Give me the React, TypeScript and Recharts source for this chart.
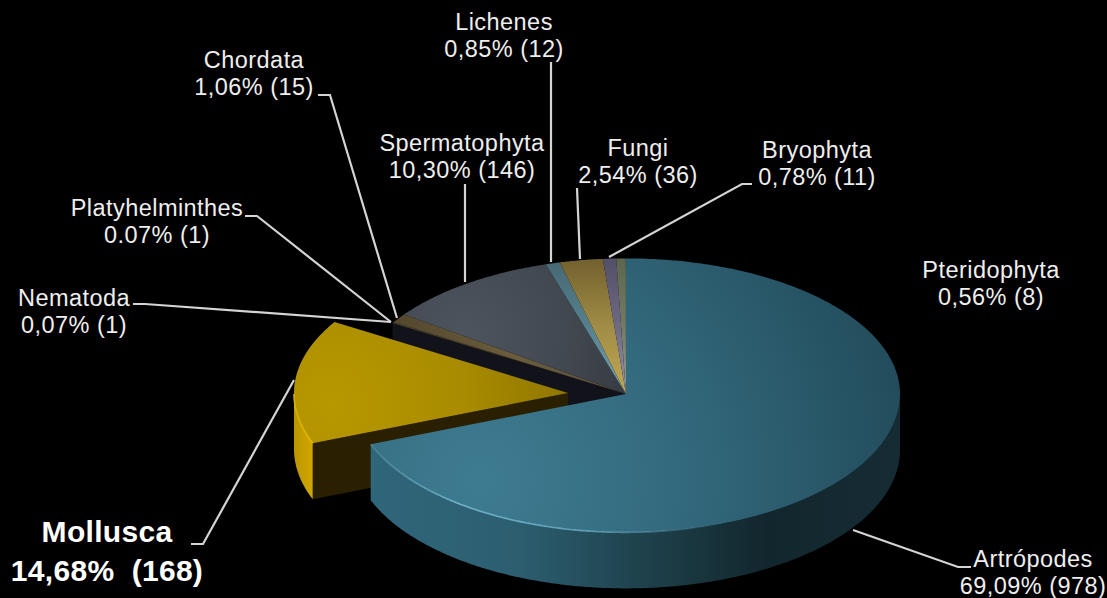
import React from "react";
import { PieChart, Pie } from "recharts";

// Slices, clockwise, starting at the Mollusca cut
const names = ["Mollusca", "Nematoda", "Platyhelminthes", "Chordata", "Spermatophyta", "Lichenes", "Fungi", "Bryophyta", "Pteridophyta", "Artrópodes"];
const percents = [14.68, 0.07, 0.07, 1.06, 10.3, 0.85, 2.54, 0.78, 0.56, 69.09];
const percentLabels = ["14,68%", "0,07%", "0.07%", "1,06%", "10,30%", "0,85%", "2,54%", "0,78%", "0,56%", "69,09%"];
const counts = [168, 1, 1, 15, 146, 12, 36, 11, 8, 978];

const chartData = names.map((name, i) => ({ name, value: percents[i] }));

const CX = 626;
const CY = 394;
const R = 274;
const DEPTH = 56;
const BACK_TILT = 0.495;
const FRONT_TILT = 0.505;
const EXPLODE: Record<string, [number, number]> = { Mollusca: [-58, -1] };
const WALL_FILL: Record<string, string> = { Mollusca: "url(#wallGold)", Artrópodes: "url(#wallBlue)" };
const CUT_FILL: Record<string, string> = { Mollusca: "#2a2000", Nematoda: "#12121a" };
const RIM_STROKE: Record<string, string> = { Mollusca: "url(#rimGold)", Artrópodes: "url(#rimBlue)" };

// Label anchor and leader line for every slice
const labelLayout: Record<string, { x: number; y: number; line: number[][] }> = {
  Mollusca: { x: 107, y: 542, line: [[191, 544], [203, 544], [294, 380]] },
  Nematoda: { x: 74, y: 306, line: [[133, 304], [145, 304], [391, 322]] },
  Platyhelminthes: { x: 157, y: 216, line: [[245, 216], [257, 216], [391, 322]] },
  Chordata: { x: 254, y: 68, line: [[318, 95], [330, 95], [397, 318]] },
  Spermatophyta: { x: 462, y: 151, line: [[465, 184], [465, 282]] },
  Lichenes: { x: 504, y: 30, line: [[551, 62], [551, 262]] },
  Fungi: { x: 638, y: 156, line: [[577, 188], [580, 259]] },
  Bryophyta: { x: 817, y: 158, line: [[752, 184], [742, 184], [609, 257]] },
  Pteridophyta: { x: 991, y: 278, line: [] },
  Artrópodes: { x: 1033, y: 567, line: [[853, 530], [958, 567], [971, 567]] },
};

const pt = (deg: number, ox: number, oy: number, drop = 0): [number, number] => {
  const rad = (deg * Math.PI) / 180;
  const s = Math.sin(rad);
  return [CX + ox + R * Math.cos(rad), CY + oy + drop - R * s * (s > 0 ? BACK_TILT : FRONT_TILT)];
};

const toPath = (pts: [number, number][], close = true) =>
  "M" + pts.map((p) => `${p[0].toFixed(1)},${p[1].toFixed(1)}`).join("L") + (close ? "Z" : "");

const arcAngles = (from: number, to: number) => {
  const out: number[] = [];
  const steps = Math.max(2, Math.ceil(Math.abs(to - from) * 2));
  for (let i = 0; i <= steps; i++) out.push(from + ((to - from) * i) / steps);
  return out;
};

function Slice(props: any) {
  const { name, startAngle, endAngle } = props;
  const [ox, oy] = EXPLODE[name] || [0, 0];
  const apex: [number, number] = [CX + ox, CY + oy];
  const apexLow: [number, number] = [CX + ox, CY + oy + DEPTH];
  const arc = arcAngles(startAngle, endAngle);
  const front = arc.filter((a) => Math.sin((a * Math.PI) / 180) < 0);
  const cut = CUT_FILL[name];
  return (
    <g>
      {cut && Math.cos((startAngle * Math.PI) / 180) < 0 && (
        <path d={toPath([apex, pt(startAngle, ox, oy), pt(startAngle, ox, oy, DEPTH), apexLow])} fill={cut} />
      )}
      {WALL_FILL[name] && front.length > 1 && (
        <path
          d={toPath([...front.map((a) => pt(a, ox, oy)), ...[...front].reverse().map((a) => pt(a, ox, oy, DEPTH))])}
          fill={WALL_FILL[name]}
        />
      )}
      <path d={toPath([apex, ...arc.map((a) => pt(a, ox, oy))])} fill={`url(#top${names.indexOf(name)})`} />
      {RIM_STROKE[name] && front.length > 1 && (
        <path d={toPath(front.map((a) => pt(a, ox, oy)), false)} fill="none" stroke={RIM_STROKE[name]} strokeWidth={1.6} />
      )}
    </g>
  );
}

const backShape = (p: any) => (p.name === "Mollusca" || p.name === "Artrópodes" ? <g /> : <Slice {...p} />);
const goldShape = (p: any) => (p.name === "Mollusca" ? <Slice {...p} /> : <g />);
const blueShape = (p: any) => (p.name === "Artrópodes" ? <Slice {...p} /> : <g />);

function renderLabel(p: any) {
  const name = p.name;
  const i = names.indexOf(name);
  const pos = labelLayout[name];
  const big = name === "Mollusca";
  return (
    <text
      key={name}
      x={pos.x}
      textAnchor="middle"
      fontFamily="'Liberation Sans', Arial, sans-serif"
      fontSize={big ? 30 : 23.5}
      letterSpacing={big ? 0.3 : 0.45}
      fontWeight={big ? 700 : 400}
      fill={big ? "#ffffff" : "#eeeeee"}
    >
      <tspan x={pos.x} y={pos.y}>{name}</tspan>
      <tspan x={pos.x} y={pos.y + (big ? 39 : 27)} xmlSpace="preserve">
        {`${percentLabels[i]}${big ? "  " : " "}(${counts[i]})`}
      </tspan>
    </text>
  );
}

function renderLine(p: any) {
  const line = labelLayout[p.name].line;
  if (!line.length) return <g key={p.name} />;
  return (
    <polyline
      key={p.name}
      points={line.map((q) => q.join(",")).join(" ")}
      fill="none"
      stroke="#d4d4d4"
      strokeWidth={2.2}
    />
  );
}

const pieProps = {
  data: chartData,
  dataKey: "value",
  nameKey: "name",
  cx: CX,
  cy: CY,
  innerRadius: 0,
  outerRadius: R,
  startAngle: -158.7,
  endAngle: -518.7,
  paddingAngle: 0,
  stroke: "none",
  isAnimationActive: false,
};

const vertical = (id: string, top: string, mid: string, bottom: string) => (
  <linearGradient id={id} gradientUnits="userSpaceOnUse" x1="0" y1="258" x2="0" y2="394">
    <stop offset="0" stopColor={top} />
    <stop offset="0.5" stopColor={mid} />
    <stop offset="1" stopColor={bottom} />
  </linearGradient>
);

export default function App() {
  return (
    <div style={{ position: "fixed", left: 0, top: 0, width: 1107, height: 598, background: "#000" }}>
      <PieChart width={1107} height={598} margin={{ top: 0, right: 0, bottom: 0, left: 0 }}>
        <defs>
          <radialGradient id="top0" gradientUnits="userSpaceOnUse" cx="330" cy="405" r="270">
            <stop offset="0" stopColor="#b89800" />
            <stop offset="0.5" stopColor="#a88b00" />
            <stop offset="1" stopColor="#887000" />
          </radialGradient>
          {vertical("top1", "#54482f", "#5a4e34", "#4a4230")}
          {vertical("top2", "#54482f", "#5a4e34", "#4a4230")}
          <linearGradient id="top3" gradientUnits="userSpaceOnUse" x1="400" y1="320" x2="626" y2="394">
            <stop offset="0" stopColor="#54482f" />
            <stop offset="0.5" stopColor="#6a5c3c" />
            <stop offset="1" stopColor="#57503e" />
          </linearGradient>
          <radialGradient id="top4" gradientUnits="userSpaceOnUse" cx="465" cy="335" r="175">
            <stop offset="0" stopColor="#4c545e" />
            <stop offset="0.6" stopColor="#424850" />
            <stop offset="1" stopColor="#363a42" />
          </radialGradient>
          {vertical("top5", "#466873", "#56808e", "#74a3b2")}
          {vertical("top6", "#72602e", "#a08c46", "#c0a852")}
          {vertical("top7", "#544f68", "#6e6a84", "#9492aa")}
          {vertical("top8", "#5c664e", "#737a64", "#989c86")}
          <radialGradient id="top9" gradientUnits="userSpaceOnUse" cx="480" cy="480" r="450">
            <stop offset="0" stopColor="#3e7c92" />
            <stop offset="0.45" stopColor="#33697d" />
            <stop offset="1" stopColor="#214a59" />
          </radialGradient>
          <linearGradient id="wallBlue" gradientUnits="userSpaceOnUse" x1="370" y1="0" x2="900" y2="0">
            <stop offset="0" stopColor="#30667a" />
            <stop offset="0.28" stopColor="#2c5e70" />
            <stop offset="0.5" stopColor="#1f434e" />
            <stop offset="0.75" stopColor="#12262d" />
            <stop offset="1" stopColor="#162c34" />
          </linearGradient>
          <linearGradient id="wallGold" gradientUnits="userSpaceOnUse" x1="293" y1="0" x2="315" y2="0">
            <stop offset="0" stopColor="#b89400" />
            <stop offset="1" stopColor="#d4aa00" />
          </linearGradient>
          <linearGradient id="rimBlue" gradientUnits="userSpaceOnUse" x1="370" y1="0" x2="720" y2="0">
            <stop offset="0" stopColor="#6fb2ca" stopOpacity="0.35" />
            <stop offset="0.25" stopColor="#6fb2ca" />
            <stop offset="0.6" stopColor="#6fb2ca" stopOpacity="0.8" />
            <stop offset="1" stopColor="#6fb2ca" stopOpacity="0" />
          </linearGradient>
          <linearGradient id="rimGold" gradientUnits="userSpaceOnUse" x1="293" y1="0" x2="315" y2="0">
            <stop offset="0" stopColor="#d8ae00" />
            <stop offset="1" stopColor="#e6bc00" />
          </linearGradient>
        </defs>
        <Pie {...pieProps} shape={backShape} label={renderLabel} labelLine={renderLine} />
        <Pie {...pieProps} shape={goldShape} label={false} labelLine={false} />
        <Pie {...pieProps} shape={blueShape} label={false} labelLine={false} />
      </PieChart>
    </div>
  );
}
